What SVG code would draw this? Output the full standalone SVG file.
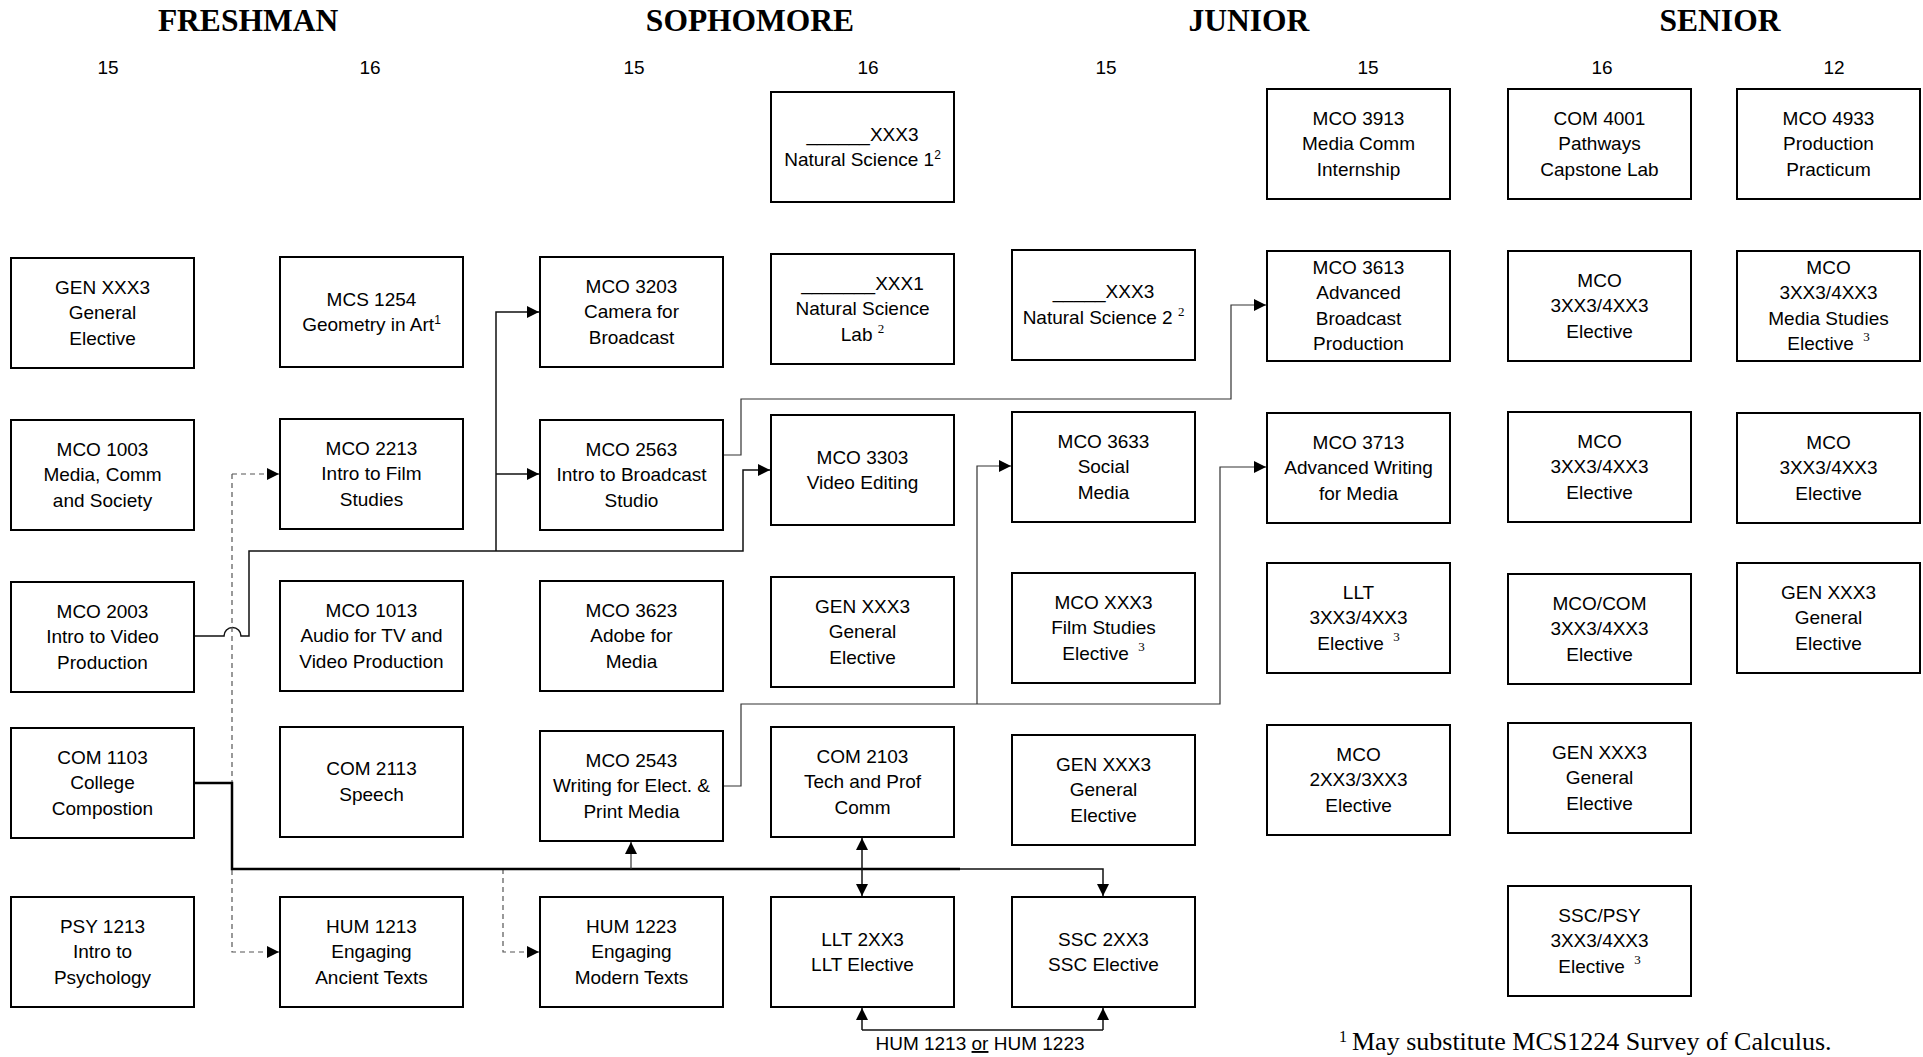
<svg xmlns="http://www.w3.org/2000/svg" width="1923" height="1057" viewBox="0 0 1923 1057">
<style>
.hdr{font-family:"Liberation Serif","Times New Roman",serif;font-weight:bold;font-size:31.5px;text-anchor:middle;fill:#000}
.cr{font-family:"Liberation Sans",Arial,sans-serif;font-size:19px;text-anchor:middle;fill:#000}
.box{fill:#fff;stroke:#000;stroke-width:2}
.t{font-family:"Liberation Sans",Arial,sans-serif;font-size:19px;text-anchor:middle;fill:#000}
.sup{font-size:12px}
.ssup{font-family:"Liberation Serif","Times New Roman",serif;font-size:13px}
.ln{fill:none;stroke:#111;stroke-width:1.5}
.thin{fill:none;stroke:#333;stroke-width:1.2}
.bus{fill:none;stroke:#000;stroke-width:2.5}
.dash{fill:none;stroke:#555;stroke-width:1.2;stroke-dasharray:5,4}
.foot{font-family:"Liberation Serif","Times New Roman",serif;font-size:26px;fill:#000}
</style>
<defs>
<marker id="ah" markerUnits="userSpaceOnUse" markerWidth="12" markerHeight="12" viewBox="0 0 12 12" refX="12" refY="6" orient="auto">
<path d="M0,0 L12,6 L0,12 z" fill="#000"/>
</marker>
</defs>
<rect x="0" y="0" width="1923" height="1057" fill="#fff"/>

<g id="headers">
<text class="hdr" x="248" y="31">FRESHMAN</text>
<text class="hdr" x="750" y="31">SOPHOMORE</text>
<text class="hdr" x="1249" y="31">JUNIOR</text>
<text class="hdr" x="1720" y="31">SENIOR</text>
<text class="cr" x="108" y="74">15</text>
<text class="cr" x="370" y="74">16</text>
<text class="cr" x="634" y="74">15</text>
<text class="cr" x="868" y="74">16</text>
<text class="cr" x="1106" y="74">15</text>
<text class="cr" x="1368" y="74">15</text>
<text class="cr" x="1602" y="74">16</text>
<text class="cr" x="1834" y="74">12</text>
</g>

<g id="connectors">
<path class="ln" d="M194,636 H224 A8.5,8.5 0 0 1 241,636 H249 V551 H743 V470 H770" marker-end="url(#ah)"/>
<path class="ln" d="M496,551 V312 H539" marker-end="url(#ah)"/>
<path class="ln" d="M496,474 H539" marker-end="url(#ah)"/>
<path class="thin" d="M723,455 H741 V399 H1231 V305 H1266" marker-end="url(#ah)"/>
<path class="thin" d="M723,786 H741 V704 H1220 V467 H1266" marker-end="url(#ah)"/>
<path class="thin" d="M977,704 V466 H1011" marker-end="url(#ah)"/>
<path class="dash" d="M232,474 H279" marker-end="url(#ah)"/>
<path class="dash" d="M232,474 V952 H279" marker-end="url(#ah)"/>
<path class="dash" d="M503,869 V952 H539" marker-end="url(#ah)"/>
<path class="bus" d="M194,783 H232 V869 H960"/>
<path class="ln" d="M960,869 H1103 V896" marker-end="url(#ah)"/>
<path class="thin" d="M631,869 V842" marker-end="url(#ah)"/>
<path class="ln" d="M862,869 V838" marker-end="url(#ah)"/>
<path class="ln" d="M862,869 V896" marker-end="url(#ah)"/>
<path class="ln" d="M862,1030 H1103"/>
<path class="ln" d="M862,1030 V1008" marker-end="url(#ah)"/>
<path class="ln" d="M1103,1030 V1008" marker-end="url(#ah)"/>
<text class="t" x="980" y="1050">HUM 1213 <tspan text-decoration="underline">or</tspan> HUM 1223</text>
</g>

<!-- Column 1 -->
<g id="gen-xxx3-f1"><rect class="box" x="11" y="258" width="183" height="110"/><text class="t"><tspan x="102.5" y="293.5">GEN XXX3</tspan><tspan x="102.5" y="319">General</tspan><tspan x="102.5" y="344.5">Elective</tspan></text></g>
<g id="mco-1003"><rect class="box" x="11" y="420" width="183" height="110"/><text class="t"><tspan x="102.5" y="455.5">MCO 1003</tspan><tspan x="102.5" y="481">Media, Comm</tspan><tspan x="102.5" y="506.5">and Society</tspan></text></g>
<g id="mco-2003"><rect class="box" x="11" y="582" width="183" height="110"/><text class="t"><tspan x="102.5" y="617.5">MCO 2003</tspan><tspan x="102.5" y="643">Intro to Video</tspan><tspan x="102.5" y="668.5">Production</tspan></text></g>
<g id="com-1103"><rect class="box" x="11" y="728" width="183" height="110"/><text class="t"><tspan x="102.5" y="763.5">COM 1103</tspan><tspan x="102.5" y="789">College</tspan><tspan x="102.5" y="814.5">Compostion</tspan></text></g>
<g id="psy-1213"><rect class="box" x="11" y="897" width="183" height="110"/><text class="t"><tspan x="102.5" y="932.5">PSY 1213</tspan><tspan x="102.5" y="958">Intro to</tspan><tspan x="102.5" y="983.5">Psychology</tspan></text></g>

<!-- Column 2 -->
<g id="mcs-1254"><rect class="box" x="280" y="257" width="183" height="110"/><text class="t"><tspan x="371.5" y="305.5">MCS 1254</tspan><tspan x="371.5" y="331">Geometry in Art<tspan class="sup" dy="-7">1</tspan></tspan></text></g>
<g id="mco-2213"><rect class="box" x="280" y="419" width="183" height="110"/><text class="t"><tspan x="371.5" y="454.5">MCO 2213</tspan><tspan x="371.5" y="480">Intro to Film</tspan><tspan x="371.5" y="505.5">Studies</tspan></text></g>
<g id="mco-1013"><rect class="box" x="280" y="581" width="183" height="110"/><text class="t"><tspan x="371.5" y="616.5">MCO 1013</tspan><tspan x="371.5" y="642">Audio for TV and</tspan><tspan x="371.5" y="667.5">Video Production</tspan></text></g>
<g id="com-2113"><rect class="box" x="280" y="727" width="183" height="110"/><text class="t"><tspan x="371.5" y="775">COM 2113</tspan><tspan x="371.5" y="800.5">Speech</tspan></text></g>
<g id="hum-1213"><rect class="box" x="280" y="897" width="183" height="110"/><text class="t"><tspan x="371.5" y="932.5">HUM 1213</tspan><tspan x="371.5" y="958">Engaging</tspan><tspan x="371.5" y="983.5">Ancient Texts</tspan></text></g>

<!-- Column 3 -->
<g id="mco-3203"><rect class="box" x="540" y="257" width="183" height="110"/><text class="t"><tspan x="631.5" y="292.5">MCO 3203</tspan><tspan x="631.5" y="318">Camera for</tspan><tspan x="631.5" y="343.5">Broadcast</tspan></text></g>
<g id="mco-2563"><rect class="box" x="540" y="420" width="183" height="110"/><text class="t"><tspan x="631.5" y="455.5">MCO 2563</tspan><tspan x="631.5" y="481">Intro to Broadcast</tspan><tspan x="631.5" y="506.5">Studio</tspan></text></g>
<g id="mco-3623"><rect class="box" x="540" y="581" width="183" height="110"/><text class="t"><tspan x="631.5" y="616.5">MCO 3623</tspan><tspan x="631.5" y="642">Adobe for</tspan><tspan x="631.5" y="667.5">Media</tspan></text></g>
<g id="mco-2543"><rect class="box" x="540" y="731" width="183" height="110"/><text class="t"><tspan x="631.5" y="766.5">MCO 2543</tspan><tspan x="631.5" y="792">Writing for Elect. &amp;</tspan><tspan x="631.5" y="817.5">Print Media</tspan></text></g>
<g id="hum-1223"><rect class="box" x="540" y="897" width="183" height="110"/><text class="t"><tspan x="631.5" y="932.5">HUM 1223</tspan><tspan x="631.5" y="958">Engaging</tspan><tspan x="631.5" y="983.5">Modern Texts</tspan></text></g>

<!-- Column 4 -->
<g id="nat-sci-1"><rect class="box" x="771" y="92" width="183" height="110"/><text class="t"><tspan x="862.5" y="141">______XXX3</tspan><tspan x="862.5" y="166">Natural Science 1<tspan class="sup" dy="-7">2</tspan></tspan></text></g>
<g id="nat-sci-lab"><rect class="box" x="771" y="254" width="183" height="110"/><text class="t"><tspan x="862.5" y="289.5">_______XXX1</tspan><tspan x="862.5" y="315">Natural Science</tspan><tspan x="862.5" y="340.5">Lab <tspan class="ssup" dy="-8">2</tspan></tspan></text></g>
<g id="mco-3303"><rect class="box" x="771" y="415" width="183" height="110"/><text class="t"><tspan x="862.5" y="463.5">MCO 3303</tspan><tspan x="862.5" y="489">Video Editing</tspan></text></g>
<g id="gen-xxx3-s2"><rect class="box" x="771" y="577" width="183" height="110"/><text class="t"><tspan x="862.5" y="612.5">GEN XXX3</tspan><tspan x="862.5" y="638">General</tspan><tspan x="862.5" y="663.5">Elective</tspan></text></g>
<g id="com-2103"><rect class="box" x="771" y="727" width="183" height="110"/><text class="t"><tspan x="862.5" y="762.5">COM 2103</tspan><tspan x="862.5" y="788">Tech and Prof</tspan><tspan x="862.5" y="813.5">Comm</tspan></text></g>
<g id="llt-2xx3"><rect class="box" x="771" y="897" width="183" height="110"/><text class="t"><tspan x="862.5" y="945.5">LLT 2XX3</tspan><tspan x="862.5" y="971">LLT Elective</tspan></text></g>

<!-- Column 5 -->
<g id="nat-sci-2"><rect class="box" x="1012" y="250" width="183" height="110"/><text class="t"><tspan x="1103.5" y="298">_____XXX3</tspan><tspan x="1103.5" y="324">Natural Science 2 <tspan class="ssup" dy="-8">2</tspan></tspan></text></g>
<g id="mco-3633"><rect class="box" x="1012" y="412" width="183" height="110"/><text class="t"><tspan x="1103.5" y="447.5">MCO 3633</tspan><tspan x="1103.5" y="473">Social</tspan><tspan x="1103.5" y="498.5">Media</tspan></text></g>
<g id="mco-xxx3-film"><rect class="box" x="1012" y="573" width="183" height="110"/><text class="t"><tspan x="1103.5" y="608.5">MCO XXX3</tspan><tspan x="1103.5" y="634">Film Studies</tspan><tspan x="1103.5" y="659.5">Elective <tspan class="ssup" dx="4" dy="-9">3</tspan></tspan></text></g>
<g id="gen-xxx3-j1"><rect class="box" x="1012" y="735" width="183" height="110"/><text class="t"><tspan x="1103.5" y="770.5">GEN XXX3</tspan><tspan x="1103.5" y="796">General</tspan><tspan x="1103.5" y="821.5">Elective</tspan></text></g>
<g id="ssc-2xx3"><rect class="box" x="1012" y="897" width="183" height="110"/><text class="t"><tspan x="1103.5" y="945.5">SSC 2XX3</tspan><tspan x="1103.5" y="971">SSC Elective</tspan></text></g>

<!-- Column 6 -->
<g id="mco-3913"><rect class="box" x="1267" y="89" width="183" height="110"/><text class="t"><tspan x="1358.5" y="124.5">MCO 3913</tspan><tspan x="1358.5" y="150">Media Comm</tspan><tspan x="1358.5" y="175.5">Internship</tspan></text></g>
<g id="mco-3613"><rect class="box" x="1267" y="251" width="183" height="110"/><text class="t"><tspan x="1358.5" y="273.5">MCO 3613</tspan><tspan x="1358.5" y="299">Advanced</tspan><tspan x="1358.5" y="324.5">Broadcast</tspan><tspan x="1358.5" y="350">Production</tspan></text></g>
<g id="mco-3713"><rect class="box" x="1267" y="413" width="183" height="110"/><text class="t"><tspan x="1358.5" y="448.5">MCO 3713</tspan><tspan x="1358.5" y="474">Advanced Writing</tspan><tspan x="1358.5" y="499.5">for Media</tspan></text></g>
<g id="llt-3xx3"><rect class="box" x="1267" y="563" width="183" height="110"/><text class="t"><tspan x="1358.5" y="598.5">LLT</tspan><tspan x="1358.5" y="624">3XX3/4XX3</tspan><tspan x="1358.5" y="649.5">Elective <tspan class="ssup" dx="4" dy="-9">3</tspan></tspan></text></g>
<g id="mco-2xx3"><rect class="box" x="1267" y="725" width="183" height="110"/><text class="t"><tspan x="1358.5" y="760.5">MCO</tspan><tspan x="1358.5" y="786">2XX3/3XX3</tspan><tspan x="1358.5" y="811.5">Elective</tspan></text></g>

<!-- Column 7 -->
<g id="com-4001"><rect class="box" x="1508" y="89" width="183" height="110"/><text class="t"><tspan x="1599.5" y="124.5">COM 4001</tspan><tspan x="1599.5" y="150">Pathways</tspan><tspan x="1599.5" y="175.5">Capstone Lab</tspan></text></g>
<g id="mco-elec-7a"><rect class="box" x="1508" y="251" width="183" height="110"/><text class="t"><tspan x="1599.5" y="286.5">MCO</tspan><tspan x="1599.5" y="312">3XX3/4XX3</tspan><tspan x="1599.5" y="337.5">Elective</tspan></text></g>
<g id="mco-elec-7b"><rect class="box" x="1508" y="412" width="183" height="110"/><text class="t"><tspan x="1599.5" y="447.5">MCO</tspan><tspan x="1599.5" y="473">3XX3/4XX3</tspan><tspan x="1599.5" y="498.5">Elective</tspan></text></g>
<g id="mco-com-elec"><rect class="box" x="1508" y="574" width="183" height="110"/><text class="t"><tspan x="1599.5" y="609.5">MCO/COM</tspan><tspan x="1599.5" y="635">3XX3/4XX3</tspan><tspan x="1599.5" y="660.5">Elective</tspan></text></g>
<g id="gen-xxx3-s7"><rect class="box" x="1508" y="723" width="183" height="110"/><text class="t"><tspan x="1599.5" y="758.5">GEN XXX3</tspan><tspan x="1599.5" y="784">General</tspan><tspan x="1599.5" y="809.5">Elective</tspan></text></g>
<g id="ssc-psy"><rect class="box" x="1508" y="886" width="183" height="110"/><text class="t"><tspan x="1599.5" y="921.5">SSC/PSY</tspan><tspan x="1599.5" y="947">3XX3/4XX3</tspan><tspan x="1599.5" y="972.5">Elective <tspan class="ssup" dx="4" dy="-9">3</tspan></tspan></text></g>

<!-- Column 8 -->
<g id="mco-4933"><rect class="box" x="1737" y="89" width="183" height="110"/><text class="t"><tspan x="1828.5" y="124.5">MCO 4933</tspan><tspan x="1828.5" y="150">Production</tspan><tspan x="1828.5" y="175.5">Practicum</tspan></text></g>
<g id="mco-media-studies"><rect class="box" x="1737" y="251" width="183" height="110"/><text class="t"><tspan x="1828.5" y="273.5">MCO</tspan><tspan x="1828.5" y="299">3XX3/4XX3</tspan><tspan x="1828.5" y="324.5">Media Studies</tspan><tspan x="1828.5" y="350">Elective <tspan class="ssup" dx="4" dy="-9">3</tspan></tspan></text></g>
<g id="mco-elec-8"><rect class="box" x="1737" y="413" width="183" height="110"/><text class="t"><tspan x="1828.5" y="448.5">MCO</tspan><tspan x="1828.5" y="474">3XX3/4XX3</tspan><tspan x="1828.5" y="499.5">Elective</tspan></text></g>
<g id="gen-xxx3-s8"><rect class="box" x="1737" y="563" width="183" height="110"/><text class="t"><tspan x="1828.5" y="598.5">GEN XXX3</tspan><tspan x="1828.5" y="624">General</tspan><tspan x="1828.5" y="649.5">Elective</tspan></text></g>

<g id="footnote">
<text class="foot" x="1339" y="1050"><tspan font-size="16" dy="-8">1</tspan><tspan x="1352" y="1050">May substitute MCS1224 Survey of Calculus.</tspan></text>
</g>
</svg>
